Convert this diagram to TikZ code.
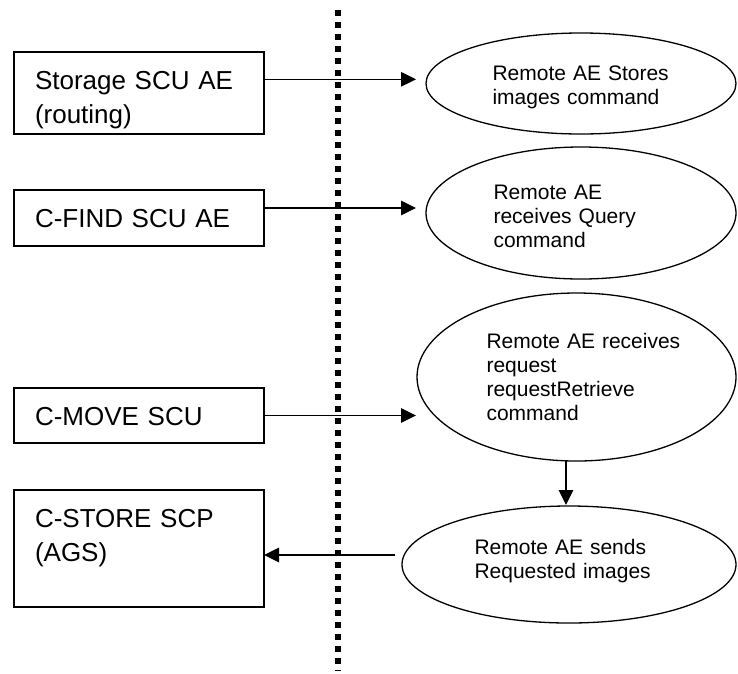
\documentclass[tikz,border=0pt]{standalone}
\usepackage{fontspec}
\setmainfont{Liberation Sans}
\usetikzlibrary{shapes.geometric,arrows.meta,positioning}

\begin{document}
\begin{tikzpicture}[x=1pt,y=-1pt,>={Triangle[length=15pt,width=14.5pt]},
                    line width=1.3pt,
                    box/.style={draw,rectangle,align=left,text width=208pt,
                      inner xsep=21pt,inner ysep=0pt,outer sep=0pt,
                      text height=37.6pt,font=\fontsize{26pt}{33.5pt}\selectfont},
                    bubble/.style={draw,ellipse,align=left,inner sep=0pt,
                      outer sep=0pt,text height=15pt,
                      font=\fontsize{21pt}{24pt}\selectfont},
                    divider/.style={line width=6pt,dash pattern=on 5.7pt off 6.3pt}]

  \path[use as bounding box,fill=white] (0,0) rectangle (738,673);

  % local side
  \node[box,anchor=north west,text depth=44.4pt] (storescu) at (14,52)
       {Storage SCU AE\\(routing)};
  \node[box,text depth=18.4pt] (findscu)  [below=56pt of storescu] {C-FIND SCU AE};
  \node[box,text depth=17.4pt] (movescu)  [below=142pt of findscu] {C-MOVE SCU};
  \node[box,text depth=79.4pt] (storescp) [below=47pt of movescu]  {C-STORE SCP\\(AGS)};

  % remote side
  \node[bubble,minimum width=310pt,minimum height=101pt,text width=177pt,
        text depth=20.6pt] (storeae) at (581,83.5)
       {Remote AE Stores\\images command};
  \node[bubble,minimum width=310pt,minimum height=132pt,text width=175pt,
        text depth=43pt] (queryae) at (581,213)
       {Remote AE\\receives Query\\command};
  \node[bubble,minimum width=319pt,minimum height=168pt,text width=180pt,
        text depth=73pt] (retrieveae) at (576.5,377)
       {\mbox{Remote AE receives}\\request\\requestRetrieve\\command};
  \node[bubble,minimum width=334pt,minimum height=117pt,text width=189pt,
        text depth=36pt] (sendae) at (569,564.5)
       {Remote AE sends\\Requested images};

  % network boundary
  \coordinate (divtop) at (338,10);
  \coordinate (divbot) at (338,671);
  \draw[divider] (divtop) -- (divbot);

  \coordinate (a1) at ([yshift=-27.3pt]storescu.north east);
  \coordinate (a2) at ([yshift=-18pt]findscu.north east);
  \coordinate (a4) at ([yshift=-6.5pt]storescp.east);
  \coordinate (a5) at ([xshift=-10.5pt]retrieveae.south);

  \draw[->,shorten >=10pt] (a1) -- (a1 -| storeae.west);
  \draw[->,shorten >=10pt] (a2) -- (a2 -| queryae.west);
  \draw[->,shorten >=1pt]  (movescu.east) -- (movescu.east -| retrieveae.west);
  \draw[->,shorten >=1pt]  (a5) -- (a5 |- sendae.north);
  \draw[->,shorten <=7pt]  (a4 -| sendae.west) -- (a4);
\end{tikzpicture}
\end{document}
